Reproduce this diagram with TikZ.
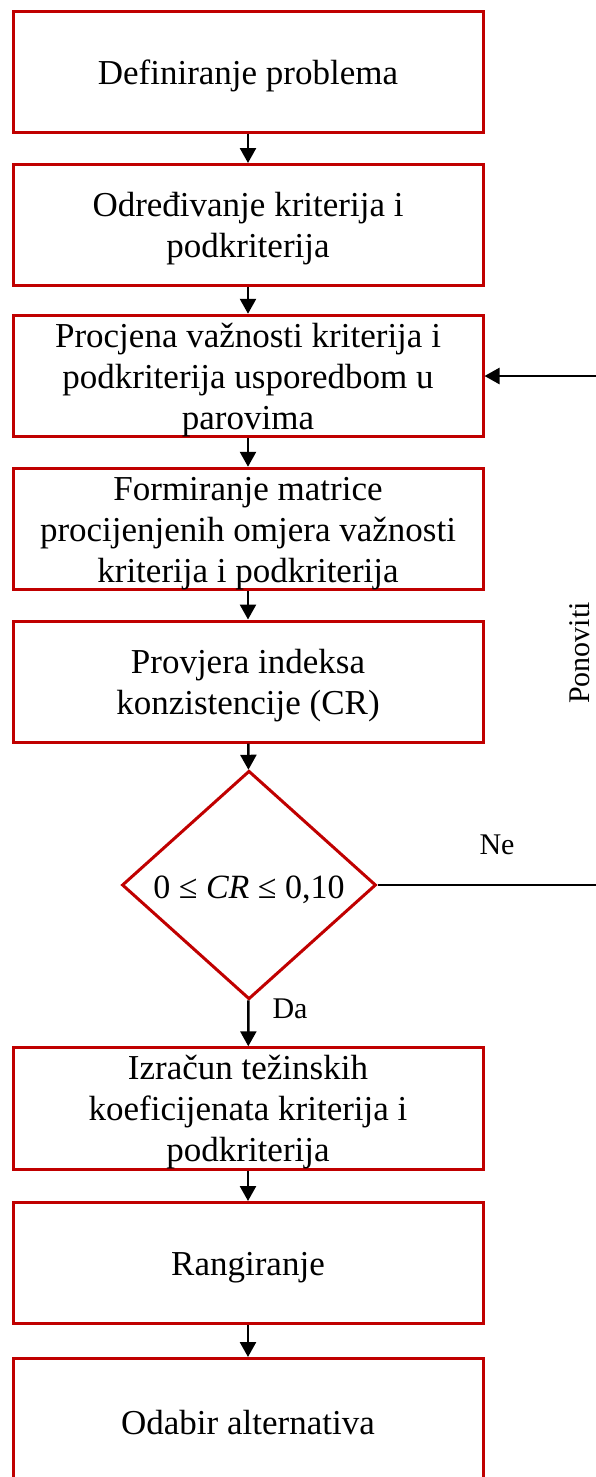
\documentclass[tikz,border=0pt]{standalone}
\usepackage{amsmath, amssymb}
\usepackage{fontspec}
\setmainfont{Liberation Serif}
\usepackage{tikz}
\usetikzlibrary{shapes.geometric, arrows.meta}
\definecolor{boxred}{RGB}{192,0,0}
\newcommand{\toppad}{\rule{0pt}{32pt}}
\tikzset{
    box/.style={draw=boxred, line width=3pt, minimum width=470pt, minimum height=121pt, align=center, inner sep=0pt, font=\fontsize{35}{41}\selectfont},
    dec/.style={draw=boxred, line width=3pt, diamond, minimum width=254pt, minimum height=224pt, inner sep=0pt, text height=32pt, font=\fontsize{34}{38}\selectfont},
    arr/.style={line width=2.5pt, -{Triangle[width=16pt, length=15pt]}},
    lbl/.style={font=\fontsize{30}{34}\selectfont, inner sep=0pt}
}

\begin{document}
\begin{tikzpicture}[x=1pt, y=-1pt]
    \useasboundingbox (0,0) rectangle (595,1477);
    \node[box] (def) at (248, 72) {\toppad Definiranje problema};
    \node[box] (odr) at (248, 225) {\toppad Određivanje kriterija i\\podkriterija};
    \node[box] (proc) at (248, 376) {\toppad Procjena važnosti kriterija i\\podkriterija usporedbom u\\parovima};
    \node[box] (form) at (248, 529) {\toppad Formiranje matrice\\procijenjenih omjera važnosti\\kriterija i podkriterija};
    \node[box] (prov) at (248, 681.5) {\toppad Provjera indeksa\\konzistencije (CR)};
    \node[dec] (cr) at (249, 885) {0 ≤ \textit{CR} ≤ 0,10};
    \node[box] (izr) at (248, 1108.5) {\toppad Izračun težinskih\\koeficijenata kriterija i\\podkriterija};
    \node[box] (rang) at (248, 1263) {\toppad Rangiranje};
    \node[box] (odab) at (248, 1419) {\toppad Odabir alternativa};
    \coordinate (rt) at (600, 885);
    \coordinate (rb) at (600, 376);

    \draw[arr] (def) -- (odr);
    \draw[arr] (odr) -- (proc);
    \draw[arr] (proc) -- (form);
    \draw[arr] (form) -- (prov);
    \draw[arr] (prov) -- (cr);
    \draw[arr] (cr) -- (izr);
    \draw[arr] (izr) -- (rang);
    \draw[arr] (rang) -- (odab);
    \draw[arr] (cr.east) -- (rt) -- (rb) -- (proc.east);

    \node[lbl] (ne) at (497, 845) {Ne};
    \node[lbl] (da) at (290, 1009) {Da};
    \node[lbl, rotate=90] (pon) at (580, 653) {Ponoviti};
\end{tikzpicture}
\end{document}
